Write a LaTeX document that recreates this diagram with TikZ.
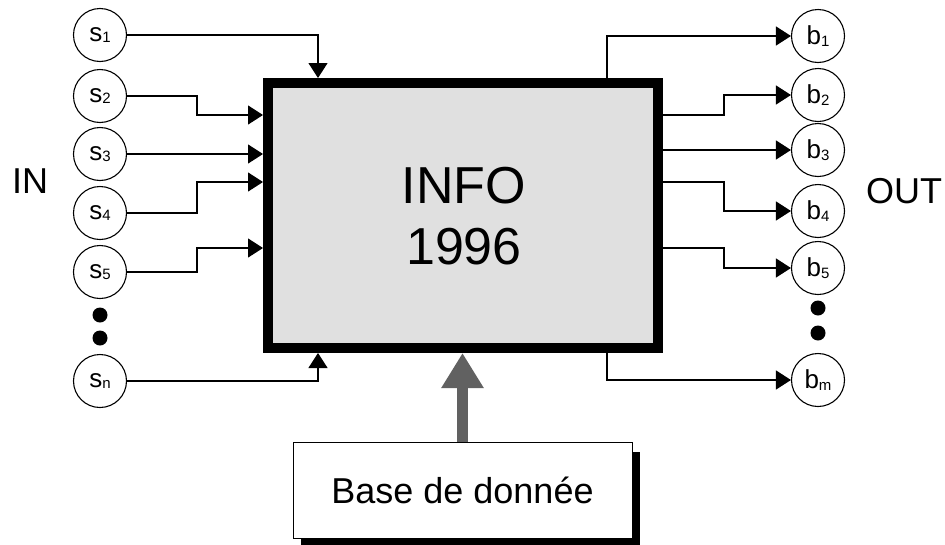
\documentclass[tikz,border=0pt]{standalone}
\usepackage{fontspec}
\setmainfont{Liberation Sans}
\usetikzlibrary{arrows.meta,shadows}
\newcommand{\lab}[2]{#1\raisebox{-0.06em}{\fontsize{15}{15}\selectfont #2}}
\begin{document}
\begin{tikzpicture}[x=1pt,y=-1pt,
  io/.style={draw,circle,line width=1.1pt,minimum size=53pt,inner sep=0pt,
    font=\fontsize{26}{26}\selectfont},
  dotmark/.style={circle,fill=black,inner sep=0pt,minimum size=15pt},
  arr/.style={line width=1.2pt,-{Triangle[length=15pt,width=19pt]}},
  big/.style={font=\fontsize{36}{36}\selectfont}]
\useasboundingbox (0,0) rectangle (945,544);
% main box
\node[draw=black,line width=10pt,fill=black!12,minimum width=390pt,minimum height=265pt,
  inner sep=0pt] (main) at (463,215.5) {};
\node[font=\fontsize{52}{61}\selectfont,align=center] (title) at (464,216) {INFO\\1996};
% data base
\node[draw,line width=1pt,fill=white,minimum width=339pt,minimum height=96pt,
  drop shadow={shadow xshift=8pt,shadow yshift=-10pt,fill=black,opacity=1},
  font=\fontsize{36}{36}\selectfont] (db) at (462.5,490) {Base de donnée};
\draw[line width=11pt,draw=black!62,-{Triangle[length=35pt,width=40pt]}] (db.north) -- (db.north |- main.south);
% labels
\node[big,anchor=base west,inner sep=0pt] (in) at (12,193) {IN};
\node[big,anchor=base west,inner sep=0pt] (out) at (866,203) {OUT};
% inputs
\node[io] (s1) at (100,35) {\lab{s}{1}};
\node[io] (s2) at (100,96) {\lab{s}{2}};
\node[io] (s3) at (100,154) {\lab{s}{3}};
\node[io] (s4) at (100,213) {\lab{s}{4}};
\node[io] (s5) at (100,272) {\lab{s}{5}};
\node[dotmark] (sd1) at (100,315) {};
\node[dotmark] (sd2) at (100,338) {};
\node[io] (sn) at (100,381) {\lab{s}{n}};
% outputs
\node[io] (b1) at (818,36) {\lab{b}{1}};
\node[io] (b2) at (818,95) {\lab{b}{2}};
\node[io] (b3) at (818,150) {\lab{b}{3}};
\node[io] (b4) at (818,211) {\lab{b}{4}};
\node[io] (b5) at (818,268) {\lab{b}{5}};
\node[dotmark] (bd1) at (818,308) {};
\node[dotmark] (bd2) at (818,333) {};
\node[io] (bm) at (818,380) {\lab{b}{m}};
% jog columns
\coordinate (jl) at (197,0);
\coordinate (jr) at (724,0);
% input connectors
\draw[arr] (s1.east) -| ([xshift=55pt]main.north west);
\draw[arr] (s2.east) -| (jl |- 0,115) -- (main.west |- 0,115);
\draw[arr] (s3.east) -- (main.west |- s3.east);
\draw[arr] (s4.east) -| (jl |- 0,182) -- (main.west |- 0,182);
\draw[arr] (s5.east) -| (jl |- 0,248) -- (main.west |- 0,248);
\draw[arr] (sn.east) -| ([xshift=55pt]main.south west);
% output connectors
\draw[arr] ([xshift=-56pt]main.north east) |- (b1.west);
\draw[arr] (main.east |- 0,115) -| (jr |- b2.west) -- (b2.west);
\draw[arr] (main.east |- b3.west) -- (b3.west);
\draw[arr] (main.east |- 0,182) -| (jr |- b4.west) -- (b4.west);
\draw[arr] (main.east |- 0,248) -| (jr |- b5.west) -- (b5.west);
\draw[arr] ([xshift=-56pt]main.south east) |- (bm.west);
\end{tikzpicture}
\end{document}
